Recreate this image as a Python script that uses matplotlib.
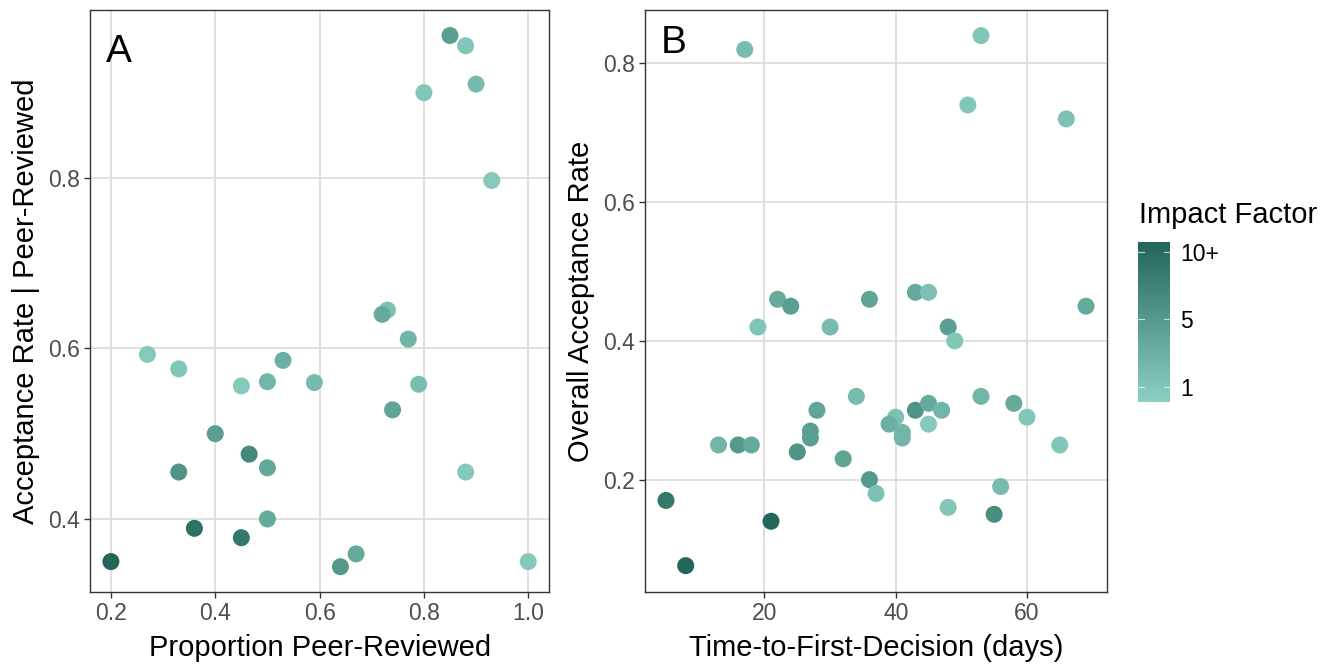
import matplotlib
matplotlib.use("Agg")
import matplotlib.pyplot as plt
import numpy as np
from matplotlib.colors import LinearSegmentedColormap, Normalize
from matplotlib.cm import ScalarMappable

plt.rcParams['font.family'] = ['Liberation Sans', 'DejaVu Sans']

# panel A: proportion peer-reviewed vs acceptance rate among peer-reviewed
prop_pr = [0.85, 0.88, 0.90, 0.80, 0.93, 0.73, 0.72, 0.77, 0.27, 0.33,
           0.53, 0.45, 0.50, 0.59, 0.79, 0.74, 0.40, 0.465, 0.33, 0.50,
           0.88, 0.50, 0.36, 0.45, 0.20, 0.67, 0.64, 1.00]
acc_pr = [0.967, 0.955, 0.910, 0.900, 0.797, 0.645, 0.640, 0.611, 0.593, 0.576,
          0.586, 0.556, 0.561, 0.560, 0.558, 0.528, 0.500, 0.476, 0.455, 0.460,
          0.455, 0.400, 0.389, 0.378, 0.350, 0.359, 0.344, 0.350]
impact_a = [4.5, 1.0, 2.0, 1.0, 0.8, 1.5, 3.5, 2.5, 0.8, 1.0,
            3.0, 0.8, 2.5, 2.0, 1.8, 4.0, 4.5, 6.5, 5.5, 3.8,
            0.8, 3.5, 8.5, 8.0, 9.6, 3.5, 5.0, 0.8]

# panel B: time to first decision vs overall acceptance rate
days = [17, 53, 51, 66, 22, 24, 36, 43, 45, 69,
        19, 30, 48, 49, 34, 53, 28, 43, 45, 47,
        58, 40, 39, 60, 45, 27, 27, 41, 41, 13,
        16, 18, 65, 25, 32, 36, 37, 56, 48, 55,
        5, 21, 8]
acc_all = [0.82, 0.84, 0.74, 0.72, 0.46, 0.45, 0.46, 0.47, 0.47, 0.45,
           0.42, 0.42, 0.42, 0.40, 0.32, 0.32, 0.30, 0.30, 0.31, 0.30,
           0.31, 0.29, 0.28, 0.29, 0.28, 0.27, 0.26, 0.268, 0.26, 0.25,
           0.25, 0.25, 0.25, 0.24, 0.23, 0.20, 0.18, 0.19, 0.16, 0.15,
           0.17, 0.14, 0.076]
impact_b = [1.8, 1.0, 1.0, 1.5, 3.5, 4.5, 4.0, 3.5, 1.5, 3.5,
            1.2, 2.0, 4.5, 1.0, 2.0, 2.5, 4.0, 5.5, 3.5, 2.5,
            3.5, 1.5, 3.0, 1.0, 0.8, 4.5, 4.5, 2.5, 2.5, 2.5,
            5.0, 3.5, 1.0, 5.5, 4.0, 5.0, 1.5, 2.0, 1.0, 6.0,
            8.0, 9.5, 9.6]

cbar_ticks = [1, 5, 9]
cbar_labels = ['1', '5', '10+']

cmap = LinearSegmentedColormap.from_list('if', ['#8CD0C4', '#216659'])
norm = Normalize(vmin=0.1, vmax=9.6)

tick_col = '#4D4D4D'
grid_col = '#DDDDDD'

fig = plt.figure(figsize=(13.36, 6.64), dpi=100)
axA = fig.add_axes([0.0674, 0.1084, 0.3436, 0.8766])
axB = fig.add_axes([0.4828, 0.1084, 0.3458, 0.8766])


def style(ax):
    ax.grid(True, color=grid_col, linewidth=1.3)
    ax.set_axisbelow(True)
    for s in ax.spines.values():
        s.set_color('#333333')
        s.set_linewidth(1.0)
    ax.tick_params(colors='#333333', labelcolor=tick_col, labelsize=16.5,
                   length=4, width=1.0, pad=3)


axA.scatter(prop_pr, acc_pr, c=impact_a, cmap=cmap, norm=norm, s=150,
            linewidths=0, zorder=3)
axA.set_xlim(0.16, 1.04)
axA.set_ylim(0.3143, 0.997)
axA.set_xticks([0.2, 0.4, 0.6, 0.8, 1.0])
axA.set_xticklabels(['0.2', '0.4', '0.6', '0.8', '1.0'])
axA.set_yticks([0.4, 0.6, 0.8])
axA.set_yticklabels(['0.4', '0.6', '0.8'])
axA.set_xlabel('Proportion Peer-Reviewed', fontsize=21, labelpad=7)
axA.set_ylabel('Acceptance Rate | Peer-Reviewed', fontsize=21, labelpad=6)
axA.text(0.035, 0.928, 'A', transform=axA.transAxes, fontsize=28, va='center')
style(axA)

axB.scatter(days, acc_all, c=impact_b, cmap=cmap, norm=norm, s=150,
            linewidths=0, zorder=3)
axB.set_xlim(1.8, 72.2)
axB.set_ylim(0.038, 0.877)
axB.set_xticks([20, 40, 60])
axB.set_yticks([0.2, 0.4, 0.6, 0.8])
axB.set_yticklabels(['0.2', '0.4', '0.6', '0.8'])
axB.set_xlabel('Time-to-First-Decision (days)', fontsize=21, labelpad=7)
axB.set_ylabel('Overall Acceptance Rate', fontsize=21, labelpad=6)
axB.text(0.035, 0.944, 'B', transform=axB.transAxes, fontsize=28, va='center')
style(axB)

# colour bar legend
cax = fig.add_axes([0.8516, 0.3946, 0.0242, 0.241])
cb = fig.colorbar(ScalarMappable(norm=norm, cmap=cmap), cax=cax)
cb.outline.set_visible(False)
cb.set_ticks(cbar_ticks)
cb.set_ticklabels(cbar_labels)
cax.tick_params(length=0, labelsize=16.5, pad=7, labelcolor='black')
for t in cbar_ticks:
    cax.plot([0, 0.2], [t, t], color='white', lw=0.8, alpha=0.7)
    cax.plot([0.8, 1.0], [t, t], color='white', lw=0.8, alpha=0.7)
cax.set_xlim(0, 1)
fig.text(0.8525, 0.676, 'Impact Factor', fontsize=21, va='center', ha='left')

fig.savefig('out.png', dpi=100)
